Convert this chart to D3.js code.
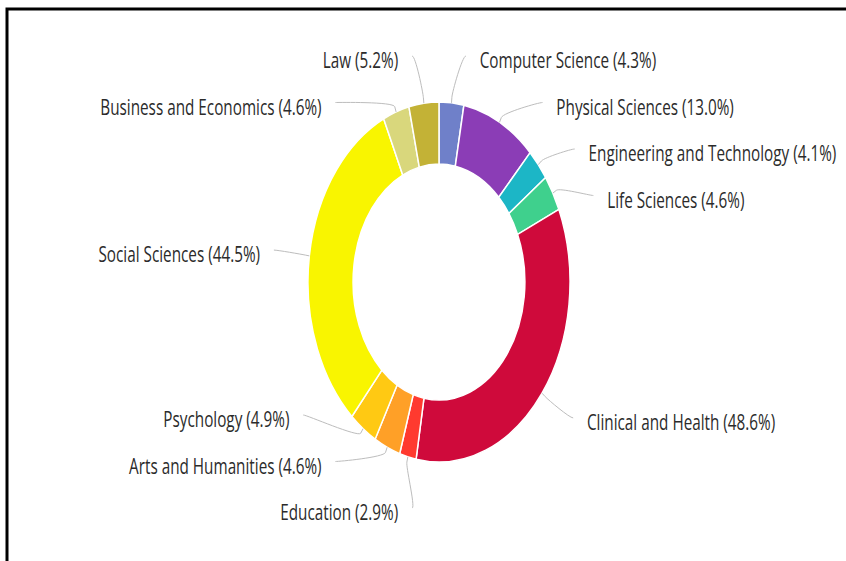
<!DOCTYPE html>
<html>
<head>
<meta charset="utf-8">
<script src="https://cdn.jsdelivr.net/npm/d3@7"></script>
<style>
  html, body { margin: 0; padding: 0; background: #fff; }
  svg { display: block; }
  .lbl { font-family: "Open Sans", sans-serif; font-size: 21px; fill: #2b2b2b; }
</style>
</head>
<body>
<div id="chart"></div>
<script>
// data, clockwise from 12 o'clock
var categories = ["Computer Science", "Physical Sciences", "Engineering and Technology", "Life Sciences",
                  "Clinical and Health", "Education", "Arts and Humanities", "Psychology",
                  "Social Sciences", "Business and Economics", "Law"];
var shares = [4.3, 13.0, 4.1, 4.6, 48.6, 2.9, 4.6, 4.9, 44.5, 4.6, 5.2];
var colors = ["#6f80c9", "#8b3db6", "#1cb6c6", "#3fd08d", "#cf0a3b", "#ff3a2f",
              "#ffa027", "#ffc913", "#f9f500", "#d9d77c", "#c3b236"];

var width = 846;
var height = 561;

// the picture is squeezed sideways, so draw in a wider box and press it back
var squeeze = 0.728;
var cx = 603, cy = 282;
var outerR = 180, innerR = 118;
var labelR = 229;      // connectors end on this circle
var guessR = 220;      // first guess for label heights
var slot = 46.5;       // vertical room per label
var topY = 56, bottomY = 508;
var gap = 19;          // connector end -> text

var svg = d3.select("#chart")
    .append("svg")
    .attr("width", width)
    .attr("height", height);

// black frame (top and left only)
svg.append("path")
    .attr("d", "M7," + height + " V9 H" + width)
    .attr("fill", "none")
    .attr("stroke", "#000")
    .attr("stroke-width", 3);

var g = svg.append("g").attr("transform", "scale(" + squeeze + ",1)");

var data = categories.map(function(c, i) {
    return { name: c, value: shares[i], color: colors[i] };
});

var pie = d3.pie().sort(null).value(function(d) { return d.value; });
var arcs = pie(data);
var arc = d3.arc().innerRadius(innerR).outerRadius(outerR);

var donut = g.append("g").attr("transform", "translate(" + cx + "," + cy + ")");
donut.selectAll("path")
    .data(arcs)
    .enter()
    .append("path")
    .attr("d", arc)
    .attr("fill", function(d) { return d.data.color; })
    .attr("stroke", "#fff")
    .attr("stroke-width", 1.5)
    .attr("vector-effect", "non-scaling-stroke");

// label placement #########################################
arcs.forEach(function(d) {
    d.mid = (d.startAngle + d.endAngle) / 2;
    d.right = d.mid < Math.PI;
    d.target = cy - guessR * Math.cos(d.mid);
});

// push overlapping labels apart, keeping each group centred on its wanted place
function spread(items) {
    items.sort(function(a, b) { return a.target - b.target; });
    var groups = items.map(function(it) { return { items: [it] }; });
    function place(gr) {
        var n = gr.items.length;
        var mean = d3.mean(gr.items, function(d) { return d.target; });
        var start = mean - (n - 1) * slot / 2;
        gr.start = Math.max(topY, Math.min(bottomY - (n - 1) * slot, start));
    }
    groups.forEach(place);
    var merged = true;
    while (merged) {
        merged = false;
        for (var i = 0; i < groups.length - 1; i++) {
            var a = groups[i], b = groups[i + 1];
            if (a.start + a.items.length * slot > b.start + 0.001) {
                a.items = a.items.concat(b.items);
                groups.splice(i + 1, 1);
                place(a);
                merged = true;
                break;
            }
        }
    }
    groups.forEach(function(gr) {
        gr.items.forEach(function(it, k) { it.y = gr.start + k * slot; });
    });
}
spread(arcs.filter(function(d) { return d.right; }));
spread(arcs.filter(function(d) { return !d.right; }));

arcs.forEach(function(d) {
    var dy = d.y - cy;
    var dx = Math.sqrt(Math.max(0, labelR * labelR - dy * dy));
    d.lx = d.right ? cx + dx : cx - dx;
});

// connectors
g.selectAll("path.conn")
    .data(arcs)
    .enter()
    .append("path")
    .attr("class", "conn")
    .attr("fill", "none")
    .attr("stroke", "#bdbdbd")
    .attr("stroke-width", 1)
    .attr("vector-effect", "non-scaling-stroke")
    .attr("d", function(d) {
        var s = Math.sin(d.mid), c = Math.cos(d.mid);
        var tx = cx + outerR * s, ty = cy - outerR * c;
        var bx = cx + (outerR + 5.5) * s, by = cy - (outerR + 5.5) * c;
        var c1x = d.lx + (d.right ? -5 : 5);
        return "M" + d.lx + "," + d.y +
            " C" + c1x + "," + d.y + " " + (2 * bx - tx) + "," + (2 * by - ty) + " " + bx + "," + by +
            " L" + tx + "," + ty;
    });

// texts
g.selectAll("text.lbl")
    .data(arcs)
    .enter()
    .append("text")
    .attr("class", "lbl")
    .attr("x", function(d) { return d.right ? d.lx + gap : d.lx - gap; })
    .attr("y", function(d) { return d.y + 5; })
    .attr("dy", "0.35em")
    .attr("text-anchor", function(d) { return d.right ? "start" : "end"; })
    .text(function(d) { return d.data.name + " (" + d.data.value.toFixed(1) + "%)"; });
</script>
</body>
</html>
